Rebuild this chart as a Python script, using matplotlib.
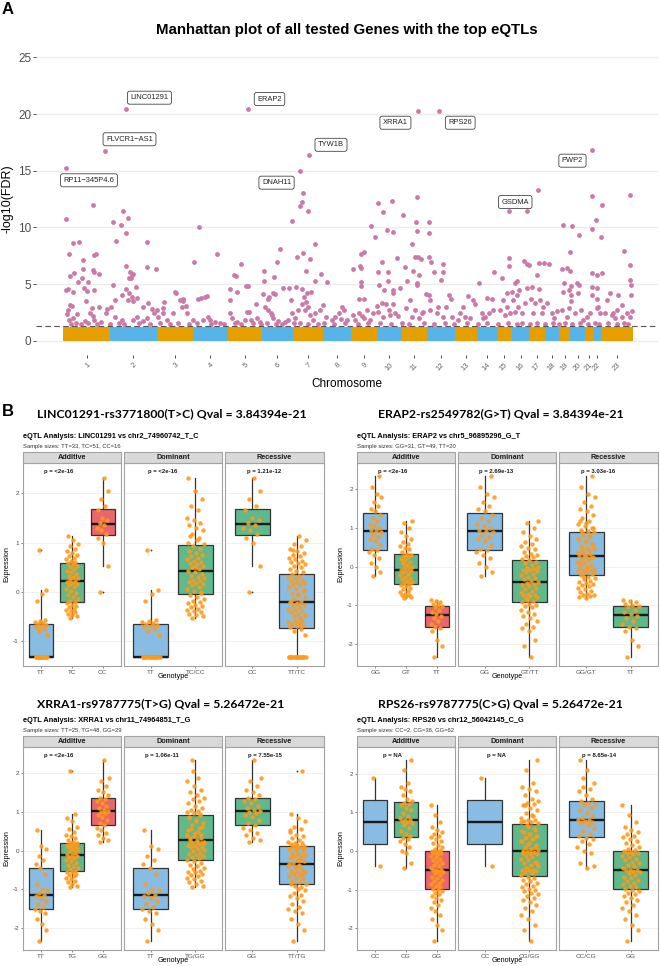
import numpy as np
import matplotlib
matplotlib.use("Agg")
import matplotlib.pyplot as plt
from matplotlib.patches import Rectangle
import matplotlib.transforms as mtransforms

W, H = 660, 966
plt.rcParams['font.family'] = ['Liberation Sans', 'DejaVu Sans']

# ---------------- panel A: Manhattan data ----------------
chrom_labels = [str(i) for i in range(1, 24)]
chrom_len_mb = [252, 254, 194, 189, 184, 167, 162, 150, 144, 132, 135, 153,
                117, 108, 81, 95, 85, 77, 58, 81, 45, 40, 173]
band_top = 1.25          # top of the dense non-significant cloud
fdr_cut = 1.3            # -log10(0.05)

# significant hits: (cumulative position in Mb, -log10 FDR)
hits = [
    (339, 20.42), (997, 20.42), (227, 16.77), (13, 15.21), (1329, 16.39), (1914, 20.27),
    (2031, 20.27), (2855, 16.8), (2565, 13.27), (1276, 14.98),
    (1293, 13.0), (1287, 12.27), (1276, 11.89), (1321, 11.42), (1235, 10.57), (13, 10.77),
    (162, 11.98), (324, 11.42), (349, 10.8), (267, 10.48), (312, 10.21), (339, 9.53),
    (283, 8.8), (735, 10.04), (450, 8.71), (52, 8.65), (87, 8.68), (33, 7.68), (175, 7.65),
    (168, 7.57), (108, 7.12), (830, 7.65), (708, 6.95), (450, 6.53), (339, 6.62), (502, 6.33),
    (958, 6.77), (1168, 8.07), (1156, 6.92), (1082, 6.18), (1138, 5.62), (1262, 7.42),
    (1294, 7.74), (1330, 7.21), (1357, 8.5), (1312, 6.15), (1390, 5.92), (1357, 5.27),
    (1426, 5.21), (931, 5.74), (922, 5.77), (987, 4.83), (999, 4.83), (900, 4.53), (938, 4.27),
    (902, 3.56), (1084, 5.27), (1078, 4.12), (1131, 4.18), (1144, 4.09), (1113, 3.89),
    (1107, 3.71), (1188, 4.68), (1217, 4.68), (1228, 3.6), (1257, 4.71), (1291, 4.53),
    (1318, 4.24), (1338, 4.33), (1300, 3.86),
    (605, 4.33), (610, 4.24), (630, 3.56), (648, 3.65), (727, 3.65), (745, 3.77), (763, 3.83),
    (776, 3.95), (544, 3.42), (538, 2.86), (645, 3.48), (663, 3.06),
    (15, 4.48), (27, 4.53), (34, 5.71), (60, 6.0), (54, 4.33), (78, 5.18), (99, 5.5), (105, 6.3),
    (112, 4.65), (126, 4.42), (133, 5.15), (123, 3.5), (162, 6.24), (168, 6.09), (191, 5.89),
    (166, 4.48), (34, 3.15), (45, 3.06), (27, 2.71), (22, 2.36), (76, 2.36), (54, 1.97),
    (29, 1.83), (144, 2.42), (155, 2.86), (162, 2.18), (168, 1.83), (191, 3.0), (234, 2.77),
    (231, 2.42), (258, 3.0), (270, 4.92), (279, 3.6), (315, 4.0), (339, 4.53), (353, 4.18),
    (369, 3.89), (378, 3.5), (349, 3.6), (360, 6.09), (371, 5.8), (378, 5.89), (355, 5.56),
    (364, 5.5), (391, 4.77), (396, 3.74), (432, 3.0), (457, 3.36), (477, 2.77), (490, 2.42),
    (504, 2.71), (513, 2.12), (279, 2.12), (315, 1.83), (378, 1.83), (396, 2.06), (429, 1.77),
    (450, 1.97),
    (540, 2.42), (558, 1.83), (594, 2.42), (639, 3.0), (666, 2.42), (702, 1.83), (756, 1.83),
    (783, 2.12), (792, 1.83), (819, 1.68), (846, 1.54),
    (900, 2.42), (911, 1.97), (940, 1.68), (990, 2.56), (1005, 2.5), (981, 1.83), (1012, 1.83),
    (1041, 3.24), (1044, 1.97), (1062, 1.68),
    (1089, 3.0), (1107, 2.71), (1120, 2.42), (1125, 2.27), (1134, 1.97), (1161, 1.77),
    (1197, 1.68), (1215, 1.83),
    (1233, 2.42), (1251, 1.97), (1269, 2.71), (1287, 3.24), (1305, 2.71), (1311, 3.45),
    (1323, 3.0), (1332, 2.27), (1359, 2.42), (1386, 2.71), (1404, 3.15), (1419, 2.12), (1350, 1.83),
    (2409, 11.42), (2502, 11.42), (2857, 12.77), (2909, 12.0), (3062, 12.89), (2877, 10.65),
    (2857, 9.89), (2905, 9.12), (3031, 7.89), (3062, 6.71), (3062, 5.36), (3066, 4.92),
    (3066, 4.06), (3069, 2.65), (3017, 3.15), (2997, 4.03), (2698, 10.24), (2749, 10.12),
    (2783, 9.3), (2738, 7.8), (2695, 6.3), (2722, 6.44), (2738, 6.12), (2704, 5.06), (2740, 4.83),
    (2774, 5.12), (2783, 4.89), (2733, 4.48), (2743, 4.03), (2700, 4.33), (2740, 3.5), (2733, 2.86),
    (2781, 4.18), (2853, 5.95), (2882, 5.83), (2911, 5.95), (2853, 4.71), (2880, 4.62), (2855, 4.0),
    (2880, 3.71), (2880, 2.86), (2952, 4.18), (2934, 3.6), (2970, 2.42), (2979, 1.97),
    (1505, 2.94), (1516, 2.71), (1491, 2.42), (1467, 2.12), (1449, 1.83), (1498, 1.94), (1530, 1.83),
    (1563, 6.3), (1606, 7.68), (1627, 7.86), (1604, 6.59), (1606, 6.39), (1606, 5.21), (1606, 4.83),
    (1595, 3.65), (1622, 3.65), (1599, 2.42), (1566, 2.27), (1627, 1.97), (1575, 1.83), (1656, 1.83),
    (1613, 2.18), (1638, 2.71), (1671, 2.42),
    (1699, 12.15), (1728, 11.33), (1683, 9.12), (1660, 10.12), (1750, 9.8), (1719, 6.95),
    (1701, 6.06), (1755, 6.09), (1703, 4.92), (1752, 5.27), (1732, 4.48), (1692, 3.06), (1719, 3.3),
    (1743, 3.24), (1757, 2.71), (1701, 2.56), (1725, 2.12), (1764, 2.27), (1782, 4.18), (1780, 4.48),
    (1800, 7.3), (1777, 12.3), (1780, 9.57), (1782, 3.24), (1791, 2.42), (1818, 4.62), (1809, 2.18),
    (1836, 11.1), (1881, 8.56), (1847, 6.48), (1858, 5.27), (1890, 6.18), (1905, 10.51),
    (1910, 9.71), (1908, 12.65), (1899, 7.42), (1914, 7.36), (1932, 7.18), (1921, 5.8), (1912, 5.12),
    (1910, 4.92), (1872, 3.6), (1851, 2.86), (1899, 2.71), (1935, 2.42), (1923, 1.97), (1881, 2.12),
    (1944, 2.56),
    (1974, 10.48), (1974, 9.51), (1977, 7.42), (1984, 6.92), (2002, 6.03), (2049, 6.77),
    (2049, 6.03), (2038, 5.36), (1959, 4.12), (1977, 4.03), (1980, 3.6), (2025, 3.0), (2016, 2.42),
    (1980, 2.71), (2083, 4.03), (2092, 3.65), (2067, 3.0), (2097, 2.12), (2052, 2.12),
    (2160, 3.0), (2187, 3.95), (2211, 3.6), (2223, 3.24), (2142, 2.42), (2169, 2.12), (2196, 1.97),
    (2133, 1.83),
    (2247, 5.09), (2286, 3.8), (2313, 3.71), (2326, 6.09), (2259, 2.42), (2277, 2.12), (2301, 2.42),
    (2322, 2.71), (2268, 1.97),
    (2371, 5.5), (2409, 7.3), (2407, 6.62), (2376, 3.6), (2394, 4.18), (2421, 4.33), (2358, 2.71),
    (2394, 3.0), (2412, 2.42), (2385, 2.27),
    (2448, 5.27), (2439, 5.06), (2463, 4.48), (2448, 4.03), (2430, 3.6), (2490, 7.0), (2502, 6.74),
    (2515, 6.65), (2502, 4.62), (2457, 3.0), (2493, 3.3), (2475, 2.42), (2439, 2.56),
    (2529, 4.77), (2556, 5.8), (2567, 6.83), (2598, 6.89), (2567, 4.6), (2527, 3.65), (2547, 3.3),
    (2574, 3.6), (2592, 3.0), (2538, 2.42), (2583, 2.42),
    (2625, 6.8), (2610, 3.3), (2637, 2.42), (2664, 2.65), (2650, 1.97), (2691, 2.71), (2718, 2.12),
    (2763, 2.42), (2808, 1.83), (2794, 2.71), (2826, 2.12), (2844, 2.42), (2889, 3.0), (2898, 2.42),
    (2925, 2.42), (2961, 2.27), (2988, 2.71), (3015, 2.12), (3042, 2.42), (3060, 2.12),
    # just above the cut-off
    (40, 1.5), (70, 1.6), (95, 1.45), (115, 1.7), (135, 1.55), (180, 1.5), (205, 1.65), (250, 1.45),
    (300, 1.6), (330, 1.5), (410, 1.55), (470, 1.45), (520, 1.6), (575, 1.5), (620, 1.55),
    (680, 1.45), (720, 1.6), (800, 1.5), (870, 1.45), (925, 1.6), (960, 1.5), (1025, 1.55),
    (1070, 1.45), (1100, 1.6), (1150, 1.5), (1180, 1.45), (1245, 1.55), (1280, 1.6), (1320, 1.5),
    (1375, 1.45), (1410, 1.6), (1460, 1.5), (1520, 1.6), (1590, 1.5), (1645, 1.55), (1710, 1.6),
    (1770, 1.45), (1830, 1.55), (1870, 1.5), (1950, 1.6), (2000, 1.45), (2060, 1.55), (2110, 1.5),
    (2180, 1.6), (2240, 1.45), (2290, 1.55), (2350, 1.5), (2400, 1.6), (2450, 1.45), (2480, 1.55),
    (2520, 1.5), (2560, 1.6), (2600, 1.45), (2645, 1.55), (2680, 1.5), (2710, 1.6), (2750, 1.45),
    (2790, 1.55), (2835, 1.5), (2870, 1.6), (2895, 1.45), (2940, 1.55), (2990, 1.5), (3030, 1.6),
    (3050, 1.45),
]
hit_pos = [h[0] for h in hits]
hit_logq = [h[1] for h in hits]

top_genes = ['LINC01291', 'ERAP2', 'FLVCR1\u2212AS1', 'RP11\u2212345P4.6', 'TYW1B',
             'DNAH11', 'XRRA1', 'RPS26', 'GSDMA', 'PWP2']
# where the repelled label boxes sit (data coords)
label_xy = [(466, 21.45), (1114, 21.33), (358, 17.78), (139, 14.16), (1446, 17.29),
            (1152, 13.95), (1794, 19.24), (2144, 19.24), (2441, 12.24), (2750, 15.89)]

# ---------------- panel B: expression by genotype ----------------
linc_tt = [0.85, 0.03, -0.04, -0.19, -0.58, -0.60, -0.62, -0.64, -0.66, -0.68, -0.70, -0.72,
           -0.75, -0.80, -0.88] + [-1.32] * 18
linc_tc = [-0.53, -0.50, -0.47, -0.45, -0.42, -0.40, -0.37, -0.34, -0.30, -0.28, -0.26, -0.23,
           -0.21, -0.19, -0.14, -0.10, -0.06, -0.02, 0.02, 0.06, 0.10, 0.13, 0.16, 0.18, 0.20,
           0.22, 0.25, 0.28, 0.30, 0.33, 0.36, 0.40, 0.43, 0.46, 0.50, 0.53, 0.56, 0.58, 0.60,
           0.63, 0.66, 0.68, 0.72, 0.75, 0.78, 0.82, 0.88, 0.93, 0.97, 1.05, 1.13]
linc_cc = [0.0, 0.52, 1.00, 1.10, 1.18, 1.25, 1.30, 1.36, 1.40, 1.45, 1.50, 1.66, 1.75, 1.88,
           2.05, 2.32]

erap2_gg = [-0.23, -0.15, 0.0, 0.08, 0.22, 0.30, 0.38, 0.42, 0.46, 0.55, 0.65, 0.70, 0.75, 0.82,
            0.88, 0.91, 0.95, 1.00, 1.05, 1.10, 1.18, 1.25, 1.32, 1.42, 1.48, 1.55, 1.65, 1.80,
            1.88, 2.05, 2.32]
erap2_gt = [-0.81, -0.78, -0.76, -0.74, -0.72, -0.70, -0.66, -0.62, -0.58, -0.54, -0.50, -0.47,
            -0.45, -0.42, -0.40, -0.37, -0.33, -0.30, -0.26, -0.22, -0.18, -0.15, -0.12, -0.10,
            -0.09, -0.06, -0.03, 0.0, 0.04, 0.08, 0.12, 0.16, 0.20, 0.24, 0.27, 0.30, 0.32, 0.38,
            0.45, 0.48, 0.52, 0.58, 0.64, 0.70, 0.78, 0.88, 1.00, 1.12, 1.18]
erap2_tt = [-2.32, -2.05, -1.88, -1.65, -1.58, -1.55, -1.48, -1.40, -1.32, -1.27, -1.23, -1.18,
            -1.12, -1.05, -1.01, -0.98, -0.95, -0.92, -0.88, -0.86]

xrra1_tt = [-2.32, -2.05, -1.88, -1.75, -1.60, -1.55, -1.50, -1.45, -1.38, -1.30, -1.22, -1.17,
            -1.13, -1.08, -1.02, -0.98, -0.85, -0.60, -0.46, -0.35, -0.25, -0.15, 0.05, 0.13, 0.52]
xrra1_tg = [-0.94, -0.90, -0.86, -0.82, -0.78, -0.74, -0.70, -0.66, -0.62, -0.59, -0.56, -0.55,
            -0.52, -0.48, -0.44, -0.40, -0.36, -0.32, -0.28, -0.24, -0.20, -0.16, -0.13, -0.12,
            -0.10, -0.06, -0.02, 0.02, 0.05, 0.08, 0.10, 0.12, 0.15, 0.17, 0.19, 0.20, 0.23, 0.28,
            0.33, 0.37, 0.40, 0.48, 0.55, 0.60, 0.75, 0.85, 0.95, 2.05]
xrra1_gg = [0.23, 0.28, 0.33, 0.40, 0.46, 0.52, 0.58, 0.65, 0.72, 0.80, 0.86, 0.92, 0.96, 0.99,
            1.01, 1.05, 1.10, 1.16, 1.22, 1.28, 1.32, 1.36, 1.42, 1.50, 1.55, 1.65, 1.78, 1.88, 2.32]

rps26_cc = [1.88, -0.39]
rps26_cg = [-0.45, -0.30, -0.05, 0.0, 0.10, 0.18, 0.25, 0.30, 0.34, 0.38, 0.45, 0.52, 0.60, 0.68,
            0.72, 0.76, 0.78, 0.79, 0.81, 0.85, 0.90, 0.98, 1.05, 1.12, 1.18, 1.22, 1.25, 1.30,
            1.35, 1.45, 1.55, 1.60, 1.65, 1.75, 2.10, 2.34]
rps26_gg = [-2.32, -2.05, -1.90, -1.75, -1.65, -1.55, -1.48, -1.40, -1.33, -1.27, -1.22, -1.17,
            -1.12, -1.08, -1.04, -1.00, -0.98, -0.94, -0.90, -0.86, -0.82, -0.78, -0.74, -0.70,
            -0.66, -0.62, -0.58, -0.55, -0.52, -0.50, -0.49, -0.48, -0.44, -0.40, -0.36, -0.32,
            -0.28, -0.24, -0.20, -0.16, -0.12, -0.09, -0.06, -0.04, -0.02, -0.01, 0.02, 0.05,
            0.10, 0.15, 0.20, 0.25, 0.30, 0.35, 0.40, 0.45, 0.50, 0.55, 0.62, 0.75, 0.92, 1.19]

genes = [
    dict(title='LINC01291-rs3771800(T>C) Qval = 3.84394e-21',
         header='eQTL Analysis: LINC01291 vs chr2_74960742_T_C',
         geno=['TT', 'TC', 'CC'], groups=[linc_tt, linc_tc, linc_cc],
         pvals=['<2e-16', '<2e-16', '1.21e-12'], alt_first=True),
    dict(title='ERAP2-rs2549782(G>T) Qval = 3.84394e-21',
         header='eQTL Analysis: ERAP2 vs chr5_96895296_G_T',
         geno=['GG', 'GT', 'TT'], groups=[erap2_gg, erap2_gt, erap2_tt],
         pvals=['<2e-16', '2.69e-13', '3.03e-16'], alt_first=False),
    dict(title='XRRA1-rs9787775(T>G) Qval = 5.26472e-21',
         header='eQTL Analysis: XRRA1 vs chr11_74964851_T_G',
         geno=['TT', 'TG', 'GG'], groups=[xrra1_tt, xrra1_tg, xrra1_gg],
         pvals=['<2e-16', '1.06e-11', '7.55e-15'], alt_first=True),
    dict(title='RPS26-rs9787775(C>G) Qval = 5.26472e-21',
         header='eQTL Analysis: RPS26 vs chr12_56042145_C_G',
         geno=['CC', 'CG', 'GG'], groups=[rps26_cc, rps26_cg, rps26_gg],
         pvals=['NA', 'NA', '8.65e-14'], alt_first=False),
]

# ---------------- figure ----------------
fig = plt.figure(figsize=(W / 100, H / 100), dpi=100)


def px_axes(x0, y0, w, h):
    return fig.add_axes([x0 / W, 1 - (y0 + h) / H, w / W, h / H])


def ftext(x, y, s, **kw):
    return fig.text(x / W, 1 - y / H, s, **kw)


GREY_TXT = '#4D4D4D'

# ----- panel A -----
axA = px_axes(36, 43.3, 622, 311.6)
starts = np.concatenate([[0], np.cumsum(chrom_len_mb)[:-1]])
centers = starts + np.array(chrom_len_mb) / 2
band_cols = ['#E69F00' if i % 2 == 0 else '#56B4E9' for i in range(len(chrom_len_mb))]
axA.bar(starts, band_top, width=chrom_len_mb, align='edge', color=band_cols,
        linewidth=0, zorder=2)
axA.scatter(hit_pos, hit_logq, s=12, color='#CC79A7', linewidths=0, zorder=3)
axA.axhline(fdr_cut, color='#555555', lw=0.8, ls=(0, (5, 3)), zorder=4)
for g, (lx, ly) in zip(top_genes, label_xy):
    axA.text(lx, ly, g, fontsize=5.4, ha='center', va='center', zorder=5, color='#222222',
             bbox=dict(boxstyle='round,pad=0.4,rounding_size=0.3', fc='white', ec='#444444', lw=0.6))
axA.set_xlim(-147, 3212)
axA.set_ylim(-1.25, 26.25)
axA.set_yticks([0, 5, 10, 15, 20, 25])
axA.set_xticks(centers)
axA.set_xticklabels(chrom_labels, rotation=45, ha='right', va='top', rotation_mode='anchor',
                    fontsize=5.5, color='#666666')
axA.tick_params(axis='y', labelsize=8.5, labelcolor=GREY_TXT, length=2, width=0.6,
                color='#333333', pad=1.5)
axA.tick_params(axis='x', length=2, width=0.6, color='#333333', pad=3)
axA.grid(axis='y', color='#EBEBEB', lw=1.0)
axA.set_axisbelow(True)
for sp in axA.spines.values():
    sp.set_visible(False)
axA.set_ylabel('-log10(FDR)', fontsize=9, labelpad=3)
axA.set_xlabel('Chromosome', fontsize=8.5, labelpad=4)
ftext(347, 30, 'Manhattan plot of all tested Genes with the top eQTLs', fontsize=10.8,
      fontweight='bold', ha='center', va='center')
ftext(2, 9, 'A', fontsize=12, fontweight='bold', ha='left', va='center')
ftext(2, 412, 'B', fontsize=12, fontweight='bold', ha='left', va='center')

# ----- panel B -----
BLUE, GREEN, RED = '#89BCE2', '#5FB98A', '#E8666C'
col_x = [22.7, 356.7]
col_title_x = [36.7, 378.3]
row_top = [462.7, 746.7]
row_title_y = [414, 704]
pw, ph, gap, strip_h = 98.3, 203.3, 3.0, 11.0
p_frac = [0.365, 0.39, 0.40]


def jitter(n):
    return ((np.arange(n) * 0.6180339887 + 0.31) % 1.0 - 0.5) * 0.4


def draw_gene(spec, col, row):
    x0, y0 = col_x[col], row_top[row]
    g0, g1, g2 = [np.asarray(g, float) for g in spec['groups']]
    l0, l1, l2 = spec['geno']
    allv = np.concatenate([g0, g1, g2])
    ptxt_y = 1.05 * allv.max()
    lo, hi = allv.min(), max(allv.max(), ptxt_y)
    pad = 0.05 * (hi - lo)

    if spec['alt_first']:
        rec = ([g2, np.concatenate([g0, g1])], [l2, l0 + '/' + l1], [GREEN, BLUE])
    else:
        rec = ([np.concatenate([g0, g1]), g2], [l0 + '/' + l1, l2], [BLUE, GREEN])
    facets = [
        ('Additive', [g0, g1, g2], [l0, l1, l2], [BLUE, GREEN, RED]),
        ('Dominant', [g0, np.concatenate([g1, g2])], [l0, l1 + '/' + l2], [BLUE, GREEN]),
        ('Recessive',) + rec,
    ]
    for k, (name, groups, labels, cols) in enumerate(facets):
        ax = px_axes(x0 + k * (pw + gap), y0, pw, ph)
        pos = np.arange(1, len(groups) + 1)
        bp = ax.boxplot(groups, positions=pos, widths=0.78, patch_artist=True, showcaps=False,
                        boxprops=dict(edgecolor='#333333', linewidth=0.9),
                        medianprops=dict(color='#1A1A1A', linewidth=1.7),
                        whiskerprops=dict(color='#333333', linewidth=0.9),
                        flierprops=dict(marker='o', markersize=1.3, markerfacecolor='#333333',
                                        markeredgewidth=0))
        for patch, c in zip(bp['boxes'], cols):
            patch.set_facecolor(c)
            patch.set_zorder(2)
        for p, g in zip(pos, groups):
            ax.scatter(p + jitter(len(g)), g, s=10, color='#FF9A1A', alpha=0.9,
                       linewidths=0, zorder=3)
        ax.set_xlim(0.4, len(groups) + 0.6)
        ax.set_ylim(lo - pad, hi + pad)
        yt = np.arange(np.ceil(lo - pad), np.floor(hi + pad) + 1)
        ax.set_yticks(yt)
        ax.set_yticklabels([str(int(v)) for v in yt])
        ax.set_xticks(pos)
        ax.set_xticklabels(labels)
        ax.tick_params(labelsize=4.6, labelcolor=GREY_TXT, length=1.5, width=0.5,
                       color='#555555', pad=1.2)
        if k > 0:
            ax.tick_params(axis='y', left=False, labelleft=False)
        ax.grid(axis='y', color='#EFEFEF', lw=0.6)
        ax.set_axisbelow(True)
        for sp in ax.spines.values():
            sp.set_color('#A3A3A3')
            sp.set_linewidth(0.8)
        trans = mtransforms.blended_transform_factory(ax.transAxes, ax.transData)
        ax.text(p_frac[k], ptxt_y, 'p = ' + spec['pvals'][k], transform=trans, fontsize=4.3,
                fontweight='bold', ha='center', va='center', color='#1A1A1A')
        sh = strip_h / ph
        ax.add_patch(Rectangle((0, 1), 1, sh, transform=ax.transAxes, clip_on=False,
                               fc='#D9D9D9', ec='#A3A3A3', lw=0.8))
        ax.text(0.5, 1 + sh / 2, name, transform=ax.transAxes, fontsize=5.2,
                fontweight='bold', ha='center', va='center', color='#1A1A1A')

    n = [len(g0), len(g1), len(g2)]
    ftext(col_title_x[col], row_title_y[row], spec['title'], fontsize=8.8, fontweight='bold',
          family=['Lato', 'DejaVu Sans'], ha='left', va='center')
    ftext(x0, y0 - 26, spec['header'], fontsize=5.3, fontweight='bold', ha='left', va='center')
    ftext(x0, y0 - 16, 'Sample sizes: %s=%d, %s=%d, %s=%d' % (l0, n[0], l1, n[1], l2, n[2]),
          fontsize=4.2, ha='left', va='center', color='#333333')
    ftext(x0 - 16, y0 + ph / 2, 'Expression', fontsize=5.2, rotation=90, ha='center',
          va='center')
    ftext(x0 + (3 * pw + 2 * gap) / 2, y0 + ph + 11, 'Genotype', fontsize=5.2, ha='center',
          va='center')


for i, spec in enumerate(genes):
    draw_gene(spec, i % 2, i // 2)

fig.savefig('out.png', dpi=100)
